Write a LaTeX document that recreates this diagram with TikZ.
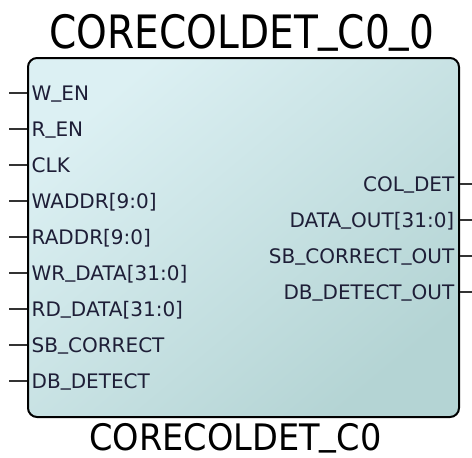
\documentclass[tikz,border=0pt]{standalone}
\usepackage{fontspec}
\usepackage{graphicx}
\setmainfont{DejaVu Sans}
\definecolor{pintext}{RGB}{30,30,55}
\definecolor{boxlight}{RGB}{220,240,243}
\definecolor{boxdark}{RGB}{180,212,212}
% underscore set close to the baseline
\newcommand{\usc}{\raisebox{0.16em}{\_}}

\begin{document}
\begin{tikzpicture}[x=1pt,y=-1pt,
  block/.style={draw=black, line width=2pt, rounded corners=9pt,
    minimum width=431pt, minimum height=359pt, inner sep=0pt,
    top color=boxlight, bottom color=boxdark, shading angle=40},
  pinwire/.style={draw=black!80, line width=1.2pt},
  pinlabel/.style={inner sep=0pt, text=pintext, font=\fontsize{20}{24}\selectfont},
  titletext/.style={inner sep=0pt, text=black, font=\fontsize{46}{50}\selectfont},
  nametext/.style={inner sep=0pt, text=black, font=\fontsize{36.5}{40}\selectfont}]
\useasboundingbox (0,0) rectangle (472,458);

% component body
\node[block] (blk) at (243.5,237.5) {};

% instance name above, component name below
\node[titletext, anchor=base] (inst) at (242,48) {\scalebox{0.85}[1]{CORECOLDET\usc C0\usc 0}};
\node[nametext, anchor=base] (comp) at (235.5,450) {\scalebox{0.92}[1]{CORECOLDET\usc C0}};

% input ports on the left side
\foreach \nm/\lbl/\y in {wen/{W\usc EN}/93, ren/{R\usc EN}/129, clk/{CLK}/165,
    waddr/{WADDR[9:0]}/201, raddr/{RADDR[9:0]}/237, wrdata/{WR\usc DATA[31:0]}/273,
    rddata/{RD\usc DATA[31:0]}/309, sbc/{SB\usc CORRECT}/345, dbd/{DB\usc DETECT}/381} {
  \coordinate (\nm) at (blk.west |- 0,\y);
  \coordinate (\nm-end) at ([xshift=-18pt]\nm);
  \draw[pinwire] (\nm-end) -- (\nm);
  \node[pinlabel, anchor=base west] (\nm-lbl) at ([xshift=4.5pt, yshift=-7.3pt]\nm) {\lbl};
}

% output ports on the right side
\foreach \nm/\lbl/\y in {coldet/{COL\usc DET}/184, dout/{DATA\usc OUT[31:0]}/220,
    sbco/{SB\usc CORRECT\usc OUT}/256, dbdo/{DB\usc DETECT\usc OUT}/292} {
  \coordinate (\nm) at (blk.east |- 0,\y);
  \coordinate (\nm-end) at ([xshift=14pt]\nm);
  \draw[pinwire] (\nm) -- (\nm-end);
  \node[pinlabel, anchor=base east] (\nm-lbl) at ([xshift=-5.5pt, yshift=-7.3pt]\nm) {\lbl};
}
\end{tikzpicture}
\end{document}
